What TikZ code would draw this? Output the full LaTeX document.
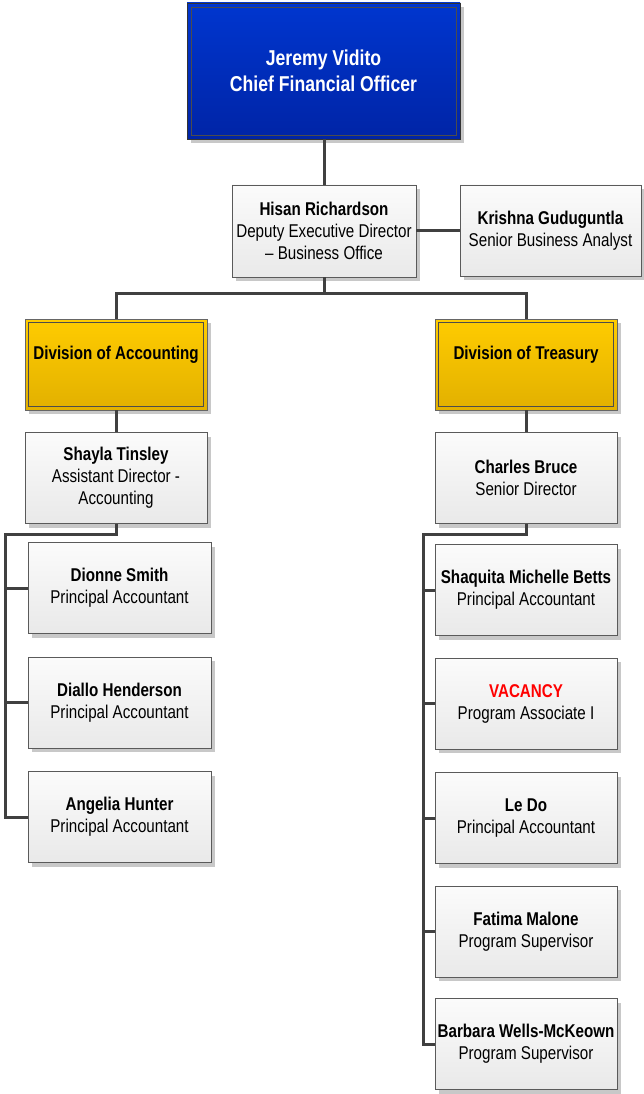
\documentclass[tikz,border=0pt]{standalone}
\usepackage{fontspec}
\setmainfont{Liberation Sans}[FakeStretch=0.82]
\usetikzlibrary{shadows}
\definecolor{lineC}{HTML}{404040}
\definecolor{edgeC}{HTML}{5A5A5A}
\definecolor{cardTop}{HTML}{FBFBFB}
\definecolor{cardBot}{HTML}{E9E9E9}
\definecolor{blueTop}{HTML}{0036CF}
\definecolor{blueBot}{HTML}{0024A6}
\definecolor{goldTop}{HTML}{FFCC00}
\definecolor{goldBot}{HTML}{E2B000}
\definecolor{shadowC}{HTML}{C8C8C8}
\definecolor{vacC}{HTML}{FF0000}
\begin{document}
\begin{tikzpicture}[x=1pt,y=-1pt,
  basebox/.style={draw=edgeC, line width=0.9pt, inner sep=0pt, align=center,
    font=\fontsize{18.5}{22}\selectfont,
    drop shadow={shadow xshift=4pt, shadow yshift=-4pt, fill=shadowC, opacity=1}},
  card/.style={basebox, top color=cardTop, bottom color=cardBot,
    minimum width=182pt, minimum height=91pt},
  ceo/.style={basebox, draw=black!80, top color=blueTop, bottom color=blueBot, text=white,
    font=\fontsize{21.5}{26}\selectfont,
    minimum width=273pt, minimum height=136pt},
  division/.style={basebox, draw=black!60, top color=goldTop, bottom color=goldBot,
    minimum width=182pt, minimum height=91pt},
  innerline/.style={draw=black!70, line width=0.6pt},
  link/.style={draw=lineC, line width=3pt, line join=miter}]
\useasboundingbox (0,0) rectangle (644,1094);

% top
\node[ceo] (cfo) at (323.5,71) {\textbf{Jeremy Vidito}\\\textbf{Chief Financial Officer}};
\draw[innerline] ([xshift=5pt,yshift=-5pt]cfo.north west) rectangle ([xshift=-4pt,yshift=4pt]cfo.south east);

\node[card, minimum width=184pt, minimum height=92pt] (hisan) at (324,231)
  {\textbf{Hisan Richardson}\\Deputy Executive Director\\– Business Office};
\node[card, minimum width=181pt] (krishna) at (550.5,230.5)
  {\textbf{Krishna Guduguntla}\\Senior Business Analyst};

% divisions
\node[division] (divA) at (116,364.5) {\raisebox{24pt}{\textbf{Division of Accounting}}};
\draw[innerline] ([xshift=4pt,yshift=-4pt]divA.north west) rectangle ([xshift=-4pt,yshift=4pt]divA.south east);
\node[division] (divT) at (526,364.5) {\raisebox{24pt}{\textbf{Division of Treasury}}};
\draw[innerline] ([xshift=4pt,yshift=-4pt]divT.north west) rectangle ([xshift=-4pt,yshift=4pt]divT.south east);

% accounting
\node[card] (shayla) at (116,478) {\textbf{Shayla Tinsley}\\Assistant Director -\\Accounting};
\node[card, minimum width=183pt] (dionne) at (119.5,588) {\textbf{Dionne Smith}\\Principal Accountant};
\node[card, minimum width=183pt] (diallo) at (119.5,702.5) {\textbf{Diallo Henderson}\\Principal Accountant};
\node[card, minimum width=183pt] (angelia) at (119.5,817) {\textbf{Angelia Hunter}\\Principal Accountant};

% treasury
\node[card] (charles) at (526,478) {\textbf{Charles Bruce}\\Senior Director};
\node[card] (shaquita) at (526,590) {\textbf{Shaquita Michelle Betts}\\Principal Accountant};
\node[card] (vacancy) at (526,703.5) {\textcolor{vacC}{\textbf{VACANCY}}\\Program Associate I};
\node[card] (ledo) at (526,818) {\textbf{Le Do}\\Principal Accountant};
\node[card] (fatima) at (526,931.5) {\textbf{Fatima Malone}\\Program Supervisor};
\node[card] (barbara) at (526,1044) {\textbf{Barbara Wells-McKeown}\\Program Supervisor};

% connectors
\draw[link] (cfo.south -| hisan.north) -- (hisan.north);
\draw[link] (hisan.east |- krishna.west) -- (krishna.west);
\coordinate (split) at (324,293);
\draw[link] (hisan.south) -- (split) -| (divA.north);
\draw[link] (split) -| (divT.north);
\draw[link] (divA.south) -- (shayla.north);
\draw[link] (divT.south) -- (charles.north);

\coordinate (lsp) at (5,534);
\draw[link] (shayla.south) |- (lsp) |- (angelia.west);
\draw[link] (lsp |- dionne.west) -- (dionne.west);
\draw[link] (lsp |- diallo.west) -- (diallo.west);

\coordinate (rsp) at (423,534);
\draw[link] (charles.south) |- (rsp) |- (barbara.west);
\draw[link] (rsp |- shaquita.west) -- (shaquita.west);
\draw[link] (rsp |- vacancy.west) -- (vacancy.west);
\draw[link] (rsp |- ledo.west) -- (ledo.west);
\draw[link] (rsp |- fatima.west) -- (fatima.west);
\end{tikzpicture}
\end{document}
